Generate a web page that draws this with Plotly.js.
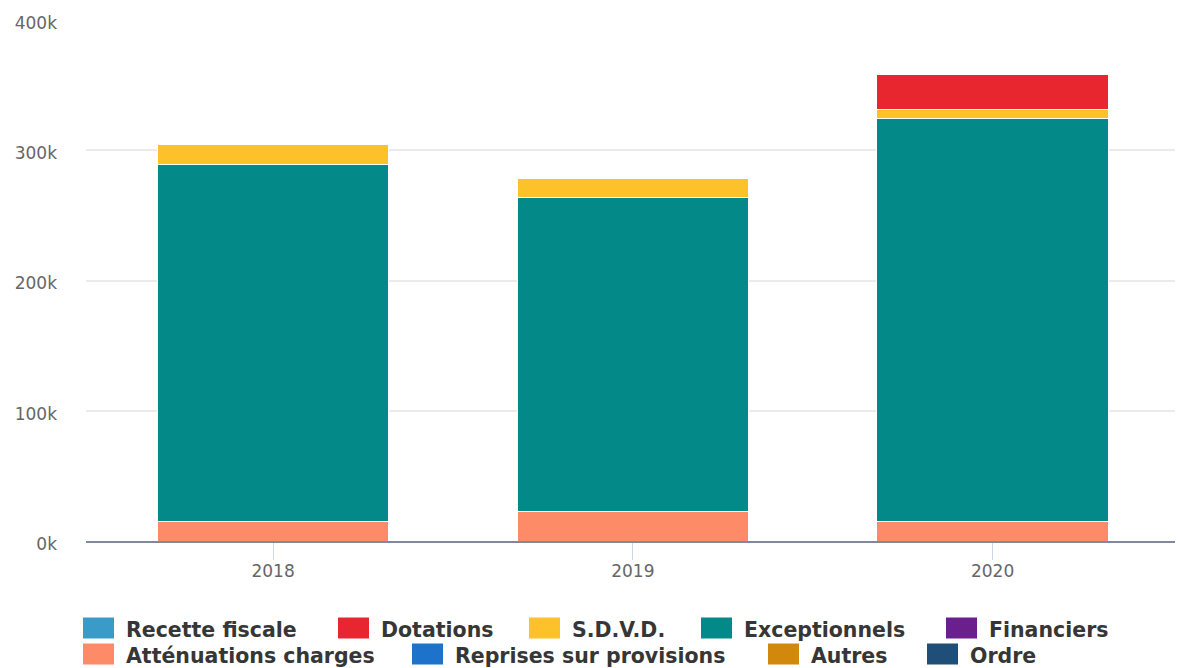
<!DOCTYPE html>
<html>
<head>
<meta charset="utf-8">
<script src="https://cdn.plot.ly/plotly-3.0.1.min.js"></script>
<style>html,body{margin:0;padding:0;background:#fff;}#chart{width:1178px;height:668px;}</style>
</head>
<body>
<div id="chart"></div>
<script>
// ---- data ----
var years = ['2018', '2019', '2020'];
var recetteFiscale = [0, 0, 0];
var dotations = [0, 0, 27000];
var sdvd = [15100, 14000, 6800];
var exceptionnels = [274500, 241700, 309900];
var financiers = [0, 0, 0];
var attenuations = [14600, 22300, 14600];
var reprises = [0, 0, 0];
var autres = [0, 0, 0];
var ordre = [0, 0, 0];
var yTickVals = [0, 100000, 200000, 300000, 400000];
var yTickLabels = ['0k', '100k', '200k', '300k', '400k'];

// series: stacking order bottom -> top
var series = [
  {name: 'Atténuations charges', y: attenuations, color: '#fe8b67'},
  {name: 'Exceptionnels', y: exceptionnels, color: '#038a88'},
  {name: 'S.D.V.D.', y: sdvd, color: '#fdc22a'},
  {name: 'Dotations', y: dotations, color: '#e8262f'},
  {name: 'Recette fiscale', y: recetteFiscale, color: '#3a9bc8'},
  {name: 'Financiers', y: financiers, color: '#6b1f8c'},
  {name: 'Reprises sur provisions', y: reprises, color: '#1d72c9'},
  {name: 'Autres', y: autres, color: '#d2870d'},
  {name: 'Ordre', y: ordre, color: '#1f4e78'}
];
var legendRows = [
  ['Recette fiscale', 'Dotations', 'S.D.V.D.', 'Exceptionnels', 'Financiers'],
  ['Atténuations charges', 'Reprises sur provisions', 'Autres', 'Ordre']
];

// ---- layout geometry ----
var W = 1178, H = 668;
var M = {l: 86, r: 3, t: 20, b: 127};
var pw = W - M.l - M.r, ph = H - M.t - M.b;
function px(x) { return (x - M.l) / pw; }
function py(y) { return (H - M.b - y) / ph; }

var traces = series.map(function (s) {
  return {
    type: 'bar', name: s.name, x: years, y: s.y,
    marker: {color: s.color, line: {color: '#ffffff', width: 1}},
    showlegend: false, hoverinfo: 'x+y+name'
  };
});

// legend drawn as shapes + text
var swatchX = [[83, 338, 529, 701, 946], [83, 412, 768, 927]];
var rowY = [628, 654];
var shapes = [], annotations = [];
legendRows.forEach(function (row, r) {
  row.forEach(function (name, i) {
    var s = series.filter(function (d) { return d.name === name; })[0];
    var x0 = swatchX[r][i];
    shapes.push({
      type: 'rect', xref: 'paper', yref: 'paper',
      x0: px(x0), x1: px(x0 + 31), y0: py(rowY[r] - 10.5), y1: py(rowY[r] + 10.5),
      fillcolor: s.color, line: {width: 0}
    });
    annotations.push({
      xref: 'paper', yref: 'paper', x: px(x0 + 41), y: py(rowY[r] + 2),
      xanchor: 'left', yanchor: 'middle', showarrow: false, text: name,
      font: {family: 'DejaVu Sans', size: 20.5, weight: 'bold', color: '#363636'}
    });
  });
});

var layout = {
  width: W, height: H,
  margin: M,
  paper_bgcolor: '#ffffff', plot_bgcolor: '#ffffff',
  barmode: 'stack', bargap: 0.356,
  showlegend: false,
  xaxis: {
    type: 'category', range: [-0.52, 2.507], fixedrange: true,
    showgrid: false, zeroline: false,
    showline: true, linecolor: '#7f8998', linewidth: 2,
    ticks: 'outside', ticklen: 17, tickwidth: 1, tickcolor: '#ccd6eb',
    ticklabelstandoff: -3,
    tickfont: {family: 'DejaVu Sans', size: 17, color: '#666666'}
  },
  yaxis: {
    range: [0, 400000], fixedrange: true,
    tickvals: yTickVals, ticktext: yTickLabels,
    showgrid: true, gridcolor: '#ebebeb', gridwidth: 2,
    zeroline: false, showline: false, ticks: '',
    ticklabelstandoff: 28, ticklabelshift: 3,
    tickfont: {family: 'DejaVu Sans', size: 17, color: '#666666'}
  },
  shapes: shapes,
  annotations: annotations
};

Plotly.newPlot('chart', traces, layout, {displayModeBar: false, staticPlot: true});
</script>
</body>
</html>
